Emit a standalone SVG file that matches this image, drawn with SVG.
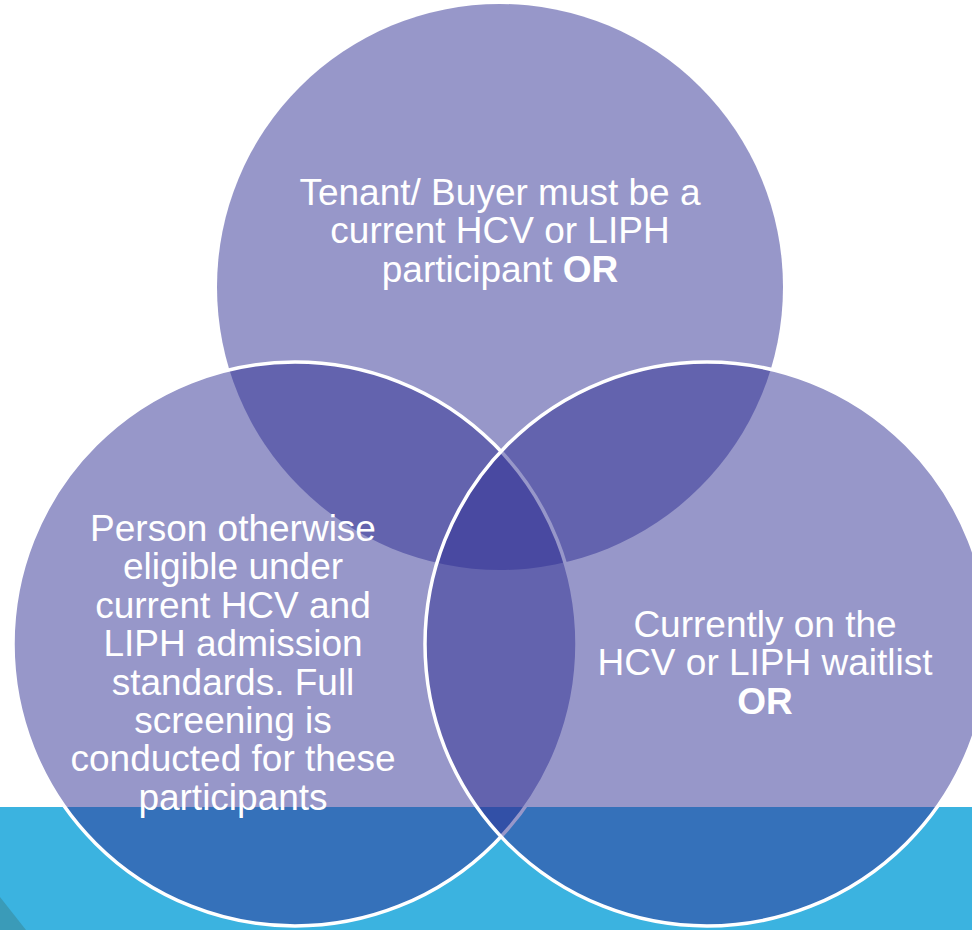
<svg xmlns="http://www.w3.org/2000/svg" width="972" height="930" viewBox="0 0 972 930">
<style>
.c{fill:#2F2F93;fill-opacity:0.5;stroke:#FFFFFF;stroke-width:3.5}
.n{stroke:none}
.t{font-family:"Liberation Sans",Arial,sans-serif;font-size:37px;fill:#FFFFFF;text-anchor:middle}
.b{font-weight:bold}
</style>
<rect x="0" y="0" width="972" height="930" fill="#FFFFFF"/>
<rect x="0" y="807" width="972" height="123" fill="#3BB3E0"/>
<polygon points="0,897 26,930 0,930" fill="#3A9BB8"/>
<g id="top">
<circle class="c n" cx="500" cy="287" r="283"/>
<text class="t"><tspan x="500" y="205">Tenant/ Buyer must be a</tspan><tspan x="500" y="243.4">current HCV or LIPH</tspan><tspan x="500" y="281.8">participant <tspan class="b">OR</tspan></tspan></text>
</g>
<g id="left">
<circle class="c" cx="295" cy="644" r="282"/>
<text class="t"><tspan x="233" y="541">Person otherwise</tspan><tspan x="233" y="579.4">eligible under</tspan><tspan x="233" y="617.8">current HCV and</tspan><tspan x="233" y="656.2">LIPH admission</tspan><tspan x="233" y="694.6">standards. Full</tspan><tspan x="233" y="733">screening is</tspan><tspan x="233" y="771.4">conducted for these</tspan><tspan x="233" y="809.8">participants</tspan></text>
</g>
<g id="right">
<circle class="c" cx="707" cy="644" r="282"/>
<text class="t"><tspan x="765" y="637">Currently on the</tspan><tspan x="765" y="675.4">HCV or LIPH waitlist</tspan><tspan x="765" y="713.8" class="b">OR</tspan></text>
</g>
<g id="connectors"></g>
</svg>
